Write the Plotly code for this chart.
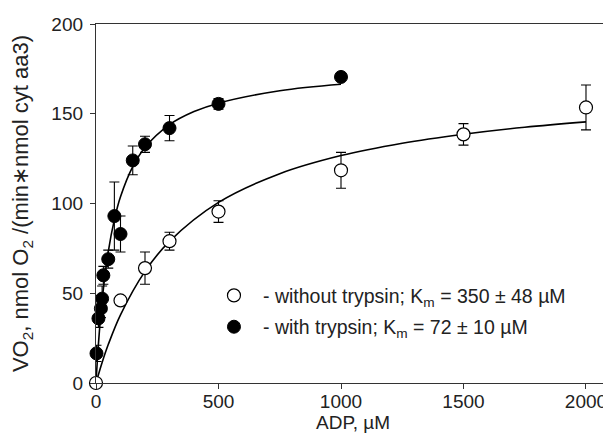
import plotly.graph_objects as go

# ---- data ----
adp_with = [2, 10, 20, 25, 30, 50, 75, 100, 150, 200, 300, 500, 1000]
vo2_with = [16.5, 36, 41.5, 47, 60, 69, 93, 83, 124, 133, 142, 155.5, 170.5]
err_with = [4.5, 5, 5, 7, 5, 5, 19, 10, 8, 4.5, 7, 3, 2]

adp_without = [0, 100, 200, 300, 500, 1000, 1500, 2000]
vo2_without = [0, 46, 64, 79, 95.5, 118.5, 138.5, 153.5]
err_without = [0, 0, 9, 5, 6, 10, 6, 12.5]

# fitted curves
fit_with_x = [0, 10, 25, 50, 75, 100, 150, 200, 300, 400, 500, 750, 1000]
fit_with_y = [0, 21.8, 46, 73.1, 91, 103.7, 120.5, 131.2, 143.9, 151.2, 155.9, 162.8, 166.4]
fit_without_x = [0, 25, 50, 100, 200, 300, 500, 750, 1000, 1250, 1500, 1750, 2000]
fit_without_y = [0, 11.4, 21.4, 38, 62.2, 78.9, 100.6, 116.6, 126.7, 133.6, 138.6, 142.5, 145.5]

x_ticks = [0, 500, 1000, 1500, 2000]
y_ticks = [0, 50, 100, 150, 200]

label_without = "- without trypsin; K<sub>m</sub> = 350 ± 48 µM"
label_with = "- with trypsin; K<sub>m</sub> = 72 ± 10 µM"

FONT = "Liberation Sans, Arial, sans-serif"

fig = go.Figure()

fig.add_trace(go.Scatter(x=fit_without_x, y=fit_without_y, mode="lines",
                         line=dict(color="black", width=1.6, shape="spline"),
                         showlegend=False, hoverinfo="skip"))
fig.add_trace(go.Scatter(x=fit_with_x, y=fit_with_y, mode="lines",
                         line=dict(color="black", width=1.6, shape="spline"),
                         showlegend=False, hoverinfo="skip"))

fig.add_trace(go.Scatter(
    x=adp_without, y=vo2_without, mode="markers", name=label_without,
    legendgroup="a", legendrank=1,
    marker=dict(symbol="circle", size=13, color="white",
                line=dict(color="black", width=1.2)),
    error_y=dict(type="data", array=err_without, visible=True,
                 color="black", thickness=1.1, width=5),
    cliponaxis=False))
fig.add_trace(go.Scatter(
    x=adp_with, y=vo2_with, mode="markers", name=label_with,
    legendgroup="b", legendrank=2,
    marker=dict(symbol="circle", size=13, color="black",
                line=dict(color="black", width=1)),
    error_y=dict(type="data", array=err_with, visible=True,
                 color="black", thickness=1.1, width=5),
    cliponaxis=False))

# the page body adds an 8px margin, so the figure is 8px smaller than the window
fig.update_layout(
    width=603, height=432,
    margin=dict(l=88, r=1, t=16, b=57, autoexpand=False),
    paper_bgcolor="white", plot_bgcolor="white",
    font=dict(family=FONT, size=19, color="#222222"),
    legend=dict(x=0.212, y=0.2, xanchor="left", yanchor="middle",
                bgcolor="rgba(0,0,0,0)", font=dict(size=19.5, color="#222222"),
                tracegroupgap=3, itemwidth=48),
    xaxis=dict(range=[0, 2098], tickvals=x_ticks, ticks="outside", ticklen=5,
               tickcolor="#333333", showline=True, linecolor="#333333",
               linewidth=1.3, mirror=True, showgrid=False, zeroline=False,
               automargin=False, ticklabelstandoff=-4,
               title=dict(text="ADP, µM", standoff=0, font=dict(size=19))),
    yaxis=dict(range=[0, 200], tickvals=y_ticks, ticks="outside", ticklen=5,
               tickcolor="#333333", showline=True, linecolor="#333333",
               linewidth=1.3, showgrid=False, zeroline=False,
               automargin=False, ticklabelstandoff=3,
               title=dict(text="VO<sub>2</sub>, nmol O<sub>2</sub> /(min∗nmol cyt aa3)",
                          standoff=24, font=dict(size=22))),
    shapes=[dict(type="line", xref="paper", yref="paper", x0=1, x1=1, y0=0, y1=1,
                 line=dict(color="#bbbbbb", width=1))],
)

fig.write_html("out.html")
